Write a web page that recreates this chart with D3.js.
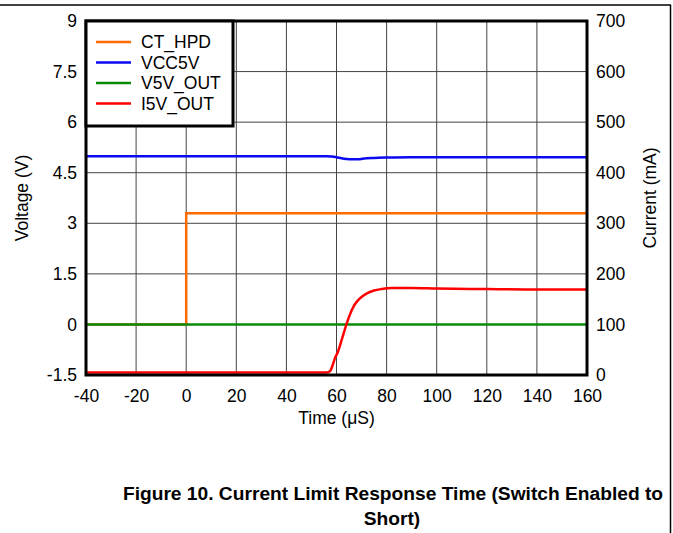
<!DOCTYPE html>
<html>
<head>
<meta charset="utf-8">
<script src="https://cdn.jsdelivr.net/npm/d3@7"></script>
<style>
  body { margin: 0; background: #fff; }
  text { font-family: "Liberation Sans", Arial, sans-serif; }
</style>
</head>
<body>
<div id="chart"></div>
<script>
// tick values
var timeTicks = [-40, -20, 0, 20, 40, 60, 80, 100, 120, 140, 160];
var voltTicks = [-1.5, 0, 1.5, 3, 4.5, 6, 7.5, 9];
var currTicks = [0, 100, 200, 300, 400, 500, 600, 700];

// CT_HPD (V)
var ctTime = [-40, 0, 0, 160];
var ctVolt = [0, 0, 3.3, 3.3];

// VCC5V (V)
var vccTime = [-40, 0, 20, 40, 56, 58, 60, 62, 64, 66, 68, 70, 72, 75, 80, 90, 100, 120, 140, 160];
var vccVolt = [4.99, 4.99, 4.99, 4.99, 4.99, 4.98, 4.96, 4.93, 4.91, 4.90, 4.90, 4.91, 4.93, 4.94, 4.95, 4.96, 4.96, 4.96, 4.96, 4.96];

// V5V_OUT (V)
var voutTime = [-40, 0, 40, 80, 120, 160];
var voutVolt = [0, 0, 0, 0, 0, 0];

// I5V_OUT (mA)
var ioutTime = [-40, 0, 40, 56, 57.5, 58.5, 59.5, 60.5, 61.5, 63, 65, 67, 69, 72, 75, 78, 82, 90, 100, 120, 140, 160];
var ioutCurr = [5, 5, 5, 5, 8, 20, 35, 45, 60, 85, 115, 137, 150, 161, 167, 170, 172, 172, 171, 170, 169, 169];

var legendNames = ["CT_HPD", "VCC5V", "V5V_OUT", "I5V_OUT"];
var colors = ["#ff6a00", "#0a0af0", "#0a8a0a", "#ff0000"];

var W = 673, H = 533;
var margin = {top: 21, right: 86, bottom: 158, left: 86},
    width = W - margin.left - margin.right,
    height = H - margin.top - margin.bottom;

var svgRoot = d3.select("#chart").append("svg")
    .attr("width", W)
    .attr("height", H);

// page frame lines
svgRoot.append("line")
    .attr("x1", 0).attr("x2", 671).attr("y1", 5).attr("y2", 5)
    .style("stroke", "#000").style("stroke-width", 1.5);
svgRoot.append("line")
    .attr("x1", 670.5).attr("x2", 670.5).attr("y1", 5).attr("y2", H)
    .style("stroke", "#000").style("stroke-width", 1.5);

var svg = svgRoot.append("g")
    .attr("transform", "translate(" + margin.left + "," + margin.top + ")");

var x = d3.scaleLinear().domain([-40, 160]).range([0, width]);
var yV = d3.scaleLinear().domain([-1.5, 9]).range([height, 0]);
var yI = d3.scaleLinear().domain([0, 700]).range([height, 0]);

// grid
svg.append("g").selectAll("line")
    .data(timeTicks)
    .enter().append("line")
    .attr("x1", function(d) { return x(d); })
    .attr("x2", function(d) { return x(d); })
    .attr("y1", 0).attr("y2", height)
    .style("stroke", "#444").style("stroke-width", 1);
svg.append("g").selectAll("line")
    .data(voltTicks)
    .enter().append("line")
    .attr("x1", 0).attr("x2", width)
    .attr("y1", function(d) { return yV(d); })
    .attr("y2", function(d) { return yV(d); })
    .style("stroke", "#444").style("stroke-width", 1);

// axes (labels only), plain hyphen for negatives
var fs = "17.5px";
var plain = function(d) { return String(d); };
var gx = svg.append("g")
    .attr("transform", "translate(0," + height + ")")
    .call(d3.axisBottom(x).tickValues(timeTicks).tickSize(0).tickPadding(15).tickFormat(plain));
var gl = svg.append("g")
    .call(d3.axisLeft(yV).tickValues(voltTicks).tickSize(0).tickPadding(9).tickFormat(plain));
var gr = svg.append("g")
    .attr("transform", "translate(" + width + ",0)")
    .call(d3.axisRight(yI).tickValues(currTicks).tickSize(0).tickPadding(9).tickFormat(plain));
[gx, gl, gr].forEach(function(g) {
  g.select(".domain").remove();
  g.selectAll("text")
    .style("font-size", fs)
    .style("font-family", "Liberation Sans, Arial, sans-serif")
    .style("fill", "#000");
});

// series
function lineFor(ts, vs, scale, curve) {
  var pts = ts.map(function(t, i) { return [t, vs[i]]; });
  return d3.line()
    .x(function(d) { return x(d[0]); })
    .y(function(d) { return scale(d[1]); })
    .curve(curve)(pts);
}

svg.append("path")
    .attr("d", lineFor(ctTime, ctVolt, yV, d3.curveLinear))
    .style("fill", "none").style("stroke", colors[0]).style("stroke-width", 2.5);
svg.append("path")
    .attr("d", lineFor(vccTime, vccVolt, yV, d3.curveMonotoneX))
    .style("fill", "none").style("stroke", colors[1]).style("stroke-width", 2.5);
svg.append("path")
    .attr("d", lineFor(voutTime, voutVolt, yV, d3.curveLinear))
    .style("fill", "none").style("stroke", colors[2]).style("stroke-width", 2.5);
svg.append("path")
    .attr("d", lineFor(ioutTime, ioutCurr, yI, d3.curveMonotoneX))
    .style("fill", "none").style("stroke", colors[3]).style("stroke-width", 2.5);

// plot border
svg.append("rect")
    .attr("x", 0).attr("y", 0).attr("width", width).attr("height", height)
    .style("fill", "none").style("stroke", "#000").style("stroke-width", 3);

// legend
var legend = svg.append("g");
legend.append("rect")
    .attr("x", 0).attr("y", 0).attr("width", 147).attr("height", 105)
    .style("fill", "#fff").style("stroke", "#000").style("stroke-width", 3);
legendNames.forEach(function(name, i) {
  var ly = 21 + i * 20.5;
  legend.append("line")
      .attr("x1", 10).attr("x2", 45).attr("y1", ly).attr("y2", ly)
      .style("stroke", colors[i]).style("stroke-width", 2.5);
  legend.append("text")
      .attr("x", 55).attr("y", ly)
      .attr("dy", "0.36em")
      .style("font-size", fs)
      .text(name);
});

// axis titles
svg.append("text")
    .attr("transform", "translate(" + (22 - margin.left) + "," + (198 - margin.top) + ") rotate(-90)")
    .style("text-anchor", "middle")
    .attr("dy", "0.36em")
    .style("font-size", fs)
    .text("Voltage (V)");
svg.append("text")
    .attr("transform", "translate(" + (650 - margin.left) + "," + (198 - margin.top) + ") rotate(-90)")
    .style("text-anchor", "middle")
    .attr("dy", "0.36em")
    .style("font-size", fs)
    .text("Current (mA)");
svg.append("text")
    .attr("x", width / 2)
    .attr("y", 418 - margin.top)
    .attr("dy", "0.36em")
    .style("text-anchor", "middle")
    .style("font-size", fs)
    .text("Time (\u03bcS)");

// caption
svgRoot.append("text")
    .attr("x", 393).attr("y", 500)
    .style("text-anchor", "middle")
    .style("font-size", "19.2px")
    .style("font-weight", "bold")
    .text("Figure 10. Current Limit Response Time (Switch Enabled to");
svgRoot.append("text")
    .attr("x", 392).attr("y", 525)
    .style("text-anchor", "middle")
    .style("font-size", "19.2px")
    .style("font-weight", "bold")
    .text("Short)");
</script>
</body>
</html>
